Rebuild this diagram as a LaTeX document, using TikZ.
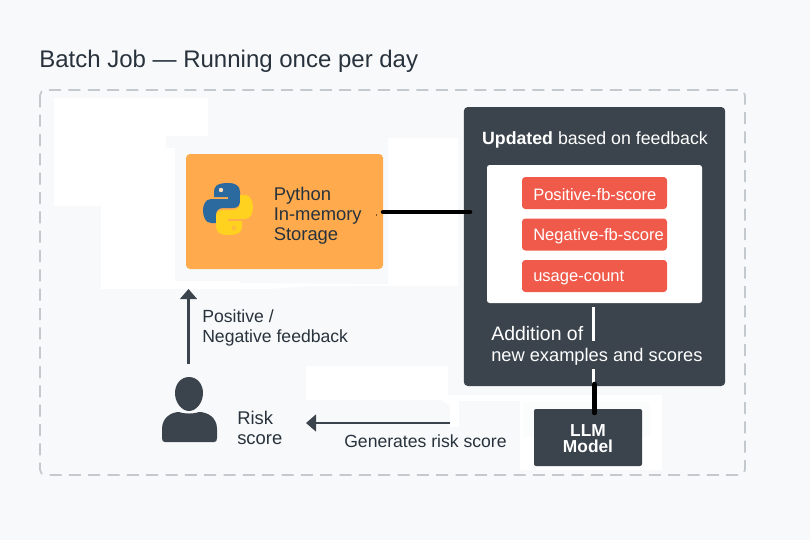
\documentclass[tikz,border=0pt]{standalone}
\usepackage{fontspec}
\setmainfont{Liberation Sans}
\usetikzlibrary{arrows.meta, positioning}
\definecolor{pageGray}{HTML}{F8F9FA}
\definecolor{slateDark}{HTML}{3B444D}
\definecolor{dashGray}{HTML}{C3C9CD}
\definecolor{orangeBox}{HTML}{FFAB4D}
\definecolor{redBox}{HTML}{F05A4B}
\definecolor{inkDark}{HTML}{28323C}
\definecolor{pyBlue}{HTML}{2B6A9F}
\definecolor{pyYellow}{HTML}{FFD21F}
\tikzset{
    label text/.style={font=\fontsize{13.2}{15}\selectfont, text=inkDark, align=left, inner sep=0pt},
    big label/.style={label text, font=\fontsize{13.8}{15}\selectfont},
    score box/.style={fill=redBox, rounded corners=2.5pt, minimum width=108.75pt, minimum height=24pt, inner sep=0pt},
    score text/.style={font=\fontsize{12.4}{14}\selectfont, text=white, anchor=west, inner sep=0pt},
    flow arrow/.style={-{Triangle[length=7.5pt,width=12.5pt]}, line width=2.2pt, slateDark},
    thick link/.style={line width=3.4pt, black, line cap=round},
}
\begin{document}
\begin{tikzpicture}[x=0.75pt, y=-0.75pt]
    \useasboundingbox (0,0) rectangle (810,540);
    \fill[pageGray] (0,0) rectangle (810,540);

    % erased patches
    \fill[white] (54,98) -| (208,136) -| (166,148) -| (175,281) -- (240,281) -- (240,283) -- (388,284) |- (388,138) -| (458,286) -- (310,286) -- (270,289) -| (101,206) -| (54,98) -- cycle;
    \fill[white] (306,366) rectangle (448,400);
    \fill[white] (442,395) -- (662,395) -- (662,470) -- (520,470) -- (520,401) -- (459,401) -- (459,427) -- (450,427) -- (450,405) -- (442,401) -- cycle;
    \fill[white!50!pageGray] (523,402) rectangle (650,437);

    % Outer dashed frame
    \draw[dashGray, line width=1.3pt, dash pattern=on 9pt off 5.5pt, rounded corners=4pt] (40,90) rectangle (745,475);
    \node[anchor=west, font=\fontsize{18}{22}\selectfont, text=inkDark, inner sep=0pt] (title) at (39,61) {Batch Job — Running once per day};

    % Storage box
    \node[fill=orangeBox, rounded corners=3pt, minimum width=147.75pt, minimum height=86.25pt, inner sep=0pt] (storage) at (284.5,211.5) {};
    \node[big label, anchor=west] (storagetext) at (273.5,216) {Python\\In-memory\\Storage};

    % Python logo
    \fill[pyBlue] (228,183) .. controls (216,183) and (214,187) .. (214,192) -- (214,197) -- (228,197) -- (228,199) -- (211,199) .. controls (205,199) and (203,206) .. (203,210) .. controls (203,216) and (205,223) .. (211,223) -- (216,223) -- (216,215) .. controls (216,210) and (219,208) .. (224,208) -- (233,208) .. controls (238,208) and (240,205) .. (240,201) -- (240,192) .. controls (240,186) and (236,183) .. (228,183) -- cycle;
    \fill[pyYellow] (228,235) .. controls (240,235) and (242,231) .. (242,226) -- (242,221) -- (228,221) -- (228,219) -- (245,219) .. controls (251,219) and (253,212) .. (253,208) .. controls (253,202) and (251,195) .. (245,195) -- (240,195) -- (240,203) .. controls (240,208) and (237,210) .. (232,210) -- (223,210) .. controls (218,210) and (216,213) .. (216,217) -- (216,226) .. controls (216,232) and (220,235) .. (228,235) -- cycle;
    \fill[orangeBox!60!pyYellow] (234,228) circle (2.4);
    \fill[orangeBox!40!white] (221,190) circle (2.2);

    % Feedback panel
    \node[fill=slateDark, rounded corners=3pt, minimum width=196pt, minimum height=209.25pt, inner sep=0pt] (panel) at (594.5,246.5) {};
    \node[font=\fontsize{13.3}{15}\selectfont, text=white, inner sep=0pt] (paneltitle) at (595,139.5) {\textbf{Updated} based on feedback};
    \node[fill=white, rounded corners=2pt, minimum width=161.25pt, minimum height=103.5pt, inner sep=0pt] (inner) at (594.5,234) {};
    \node[score box] (posscore) at (594.5,193) {};
    \node[score box] (negscore) at (594.5,234.5) {};
    \node[score box] (usage) at (594.5,276) {};
    \node[score text] at (533,195) {Positive-fb-score};
    \node[score text] at (533,236.5) {Negative-fb-score};
    \node[score text] at (533,277.5) {usage-count};
    \node[font=\fontsize{13.7}{15.75}\selectfont, text=white, align=left, anchor=west, inner sep=0pt] (addition) at (491,346) {{\fontsize{14.6}{15.75}\selectfont Addition of}\\new examples and scores};
    \draw[white, line width=1.6pt] (593.5,307) -- (593.5,341);
    \draw[white, line width=1.6pt] (593.5,369) -- (593.5,384);

    % LLM
    \node[fill=slateDark, rounded corners=1.5pt, minimum width=81pt, minimum height=42.75pt, inner sep=0pt] (llm) at (588,437.5) {};
    \node[font=\bfseries\fontsize{13}{12}\selectfont, text=white, align=center, inner sep=0pt] (llmtext) at (588,438.5) {LLM\\Model};

    % Links
    \draw[thick link] (383,212) -- (470,212);
    \draw[thick link] (594.5,384) -- (594.5,413);
    \fill[black] (376.5,215) circle (0.7);

    % Person
    \fill[slateDark] (189,377) .. controls (197,377) and (203,384) .. (203,393) .. controls (203,403) and (196,411) .. (189,411) .. controls (182,411) and (175,403) .. (175,393) .. controls (175,384) and (181,377) .. (189,377) -- cycle;
    \fill[slateDark] (162,438) -- (162,429) .. controls (162,417) and (172,412) .. (179,412) .. controls (184,414) and (194,414) .. (199,412) .. controls (207,412) and (217,417) .. (217,429) -- (217,438) .. controls (217,441) and (216,442) .. (214,442) -- (165,442) .. controls (163,442) and (162,441) .. (162,438) -- cycle;

    % Arrows
    \coordinate (fbstart) at (188.5,364);
    \coordinate (fbend) at (188.5,289);
    \coordinate (riskstart) at (450,423);
    \coordinate (riskend) at (306,423);
    \draw[flow arrow] (fbstart) -- (fbend);
    \draw[flow arrow] (riskstart) -- (riskend);

    % Labels
    \node[label text, anchor=west] (fblabel) at (202,328) {Positive /\\Negative feedback};
    \node[big label, anchor=west] (risklabel) at (237,427.5) {Risk\\score};
    \node[label text, anchor=west] (genlabel) at (344,441) {Generates risk score};
\end{tikzpicture}
\end{document}
